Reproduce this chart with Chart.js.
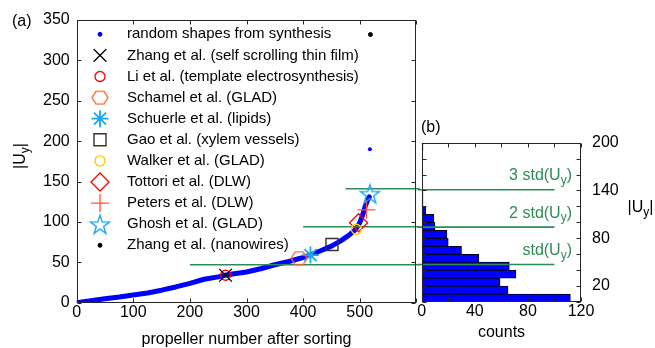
<!DOCTYPE html>
<html>
<head>
<meta charset="utf-8">
<script src="https://cdn.jsdelivr.net/npm/chart.js@4.4.0/dist/chart.umd.min.js"></script>
<style>
  html, body { margin: 0; padding: 0; background: #fff; }
  #wrap { position: relative; width: 655px; height: 348px; }
  canvas { position: absolute; left: 0; top: 0; }
</style>
</head>
<body>
<div id="wrap">
  <canvas id="panelA" width="655" height="348"></canvas>
  <canvas id="panelB" width="655" height="348"></canvas>
</div>
<script>
// Panel (a): sorted |Uy| of the random shapes
var sortIndex = [0, 25, 50, 75, 100, 125, 150, 175, 200, 225, 250, 262, 275, 300, 325, 350, 375, 395, 412, 430, 450, 465, 480, 490, 495, 500, 505, 510, 514, 517];
var sortUy    = [0, 2.5, 5, 7, 9.5, 12, 15.5, 19.5, 24, 29, 32, 34, 35.5, 38, 42, 47, 51, 55, 59, 64, 70, 76, 83, 89, 93, 99, 108, 120, 127, 131];
var outlierIndex = [518];
var outlierUy = [190];

// literature propellers
var markerNames = ['Zhang et al. (self scrolling thin film)', 'Li et al. (template electrosynthesis)',
  'Schamel et al. (GLAD)', 'Schuerle et al. (lipids)', 'Gao et al. (xylem vessels)', 'Walker et al. (GLAD)',
  'Tottori et al. (DLW)', 'Peters et al. (DLW)', 'Ghosh et al. (GLAD)', 'Zhang et al. (nanowires)'];
var markerX  = [263, 263, 393, 413, 451, 494, 498, 512, 518, 519];
var markerUy = [34, 34, 55, 59, 72, 91, 99, 115, 135, 332];
var randomName = 'random shapes from synthesis';

// Panel (b): histogram of |Uy|, bins of 10
var binCenters = [5, 15, 25, 35, 45, 55, 65, 75, 85, 95, 105, 115, 125, 135, 145, 155, 165, 175, 185, 195];
var binCounts  = [112, 65, 59, 71, 66, 43, 30, 20, 19, 10, 9, 3, 1, 1, 0, 0, 0, 0, 0, 1];

// std levels
var stdLevels = [47, 94, 141];
var stdNames  = ['std(', '2 std(', '3 std('];
var stdStartX = [200, 400, 475];

var FONT = "'Liberation Sans', Arial, sans-serif";
var GREEN = '#2e8b57';
var BLUE = '#0000ff';
var AXIS = '#262626';
Chart.defaults.font.family = FONT;
Chart.defaults.font.size = 16;
Chart.defaults.color = '#000';

function hexagon(r, color, lw) {
  var c = document.createElement('canvas');
  c.width = c.height = Math.ceil(2 * r + 4);
  var g = c.getContext('2d'), m = c.width / 2;
  g.strokeStyle = color; g.lineWidth = lw;
  g.beginPath();
  for (var k = 0; k < 6; k++) {
    var a = k * Math.PI / 3;
    g.lineTo(m + r * Math.cos(a), m + r * 0.92 * Math.sin(a));
  }
  g.closePath(); g.stroke();
  return c;
}

function pentagram(r, color, lw) {
  var c = document.createElement('canvas');
  c.width = c.height = Math.ceil(2 * r + 4);
  var g = c.getContext('2d'), m = c.width / 2;
  g.strokeStyle = color; g.lineWidth = lw;
  g.beginPath();
  for (var k = 0; k < 10; k++) {
    var rr = k % 2 ? r * 0.382 : r;
    var a = -Math.PI / 2 + k * Math.PI / 5;
    g.lineTo(m + rr * Math.cos(a), m + 1 + rr * Math.sin(a));
  }
  g.closePath(); g.stroke();
  return c;
}

// marker looks, same order as markerNames
var markerLook = [
  { style: 'crossRot', radius: 9,   color: '#000',    fill: 'transparent', lw: 1.3 },
  { style: 'circle',   radius: 5,   color: '#ff0000', fill: 'transparent', lw: 1.3 },
  { style: hexagon(8, '#ff6633', 1.4), radius: 8, color: '#ff6633', fill: 'transparent', lw: 1.4 },
  { style: 'star',     radius: 8.5, color: '#1aa7ee', fill: 'transparent', lw: 1.8 },
  { style: 'rect',     radius: 8.5, color: '#333',    fill: 'transparent', lw: 1.4 },
  { style: 'circle',   radius: 5,   color: '#ffcc00', fill: 'transparent', lw: 1.4 },
  { style: 'rectRot',  radius: 9,   color: '#ff0000', fill: 'transparent', lw: 1.3 },
  { style: 'cross',    radius: 9,   color: '#ff5533', fill: 'transparent', lw: 1.3 },
  { style: pentagram(10, '#1aa7ee', 1.4), radius: 10, color: '#1aa7ee', fill: 'transparent', lw: 1.4 },
  { style: 'circle',   radius: 2,   color: '#000',    fill: '#000', lw: 1 }
];

function subText(ctx, x, y, main, sub, tail, align, color) {
  ctx.font = '16px ' + FONT; var w1 = ctx.measureText(main).width;
  ctx.font = '12px ' + FONT; var w2 = ctx.measureText(sub).width;
  ctx.font = '16px ' + FONT; var w3 = ctx.measureText(tail).width;
  var total = w1 + w2 + w3;
  var x0 = align === 'right' ? x - total : (align === 'center' ? x - total / 2 : x);
  ctx.textAlign = 'left'; ctx.textBaseline = 'middle'; ctx.fillStyle = color;
  ctx.fillText(main, x0, y);
  ctx.font = '12px ' + FONT; ctx.fillText(sub, x0 + w1, y + 5);
  ctx.font = '16px ' + FONT; ctx.fillText(tail, x0 + w1 + w2, y);
}

// box round the plot area with inward ticks on all four sides
var boxPlugin = {
  id: 'box',
  afterDatasetsDraw: function(chart) {
    var a = chart.chartArea, ctx = chart.ctx, sx = chart.scales.x, sy = chart.scales.y;
    ctx.save();
    ctx.strokeStyle = AXIS; ctx.lineWidth = 1;
    var L = Math.round(a.left) + 0.5, R = Math.round(a.right) - 0.5, T = Math.round(a.top) + 0.5, B = Math.round(a.bottom) - 0.5;
    ctx.strokeRect(L, T, R - L, B - T);
    ctx.beginPath();
    sx.ticks.forEach(function(t) {
      var p = Math.round(sx.getPixelForValue(t.value)) + 0.5;
      ctx.moveTo(p, B); ctx.lineTo(p, B - 4);
      ctx.moveTo(p, T); ctx.lineTo(p, T + 4);
    });
    sy.ticks.forEach(function(t) {
      var p = Math.round(sy.getPixelForValue(t.value)) + 0.5;
      ctx.moveTo(L, p); ctx.lineTo(L + 4, p);
      ctx.moveTo(R, p); ctx.lineTo(R - 4, p);
    });
    ctx.stroke();
    ctx.restore();
  }
};

var textA = {
  id: 'textA',
  afterDraw: function(chart) {
    var ctx = chart.ctx;
    ctx.save();
    ctx.fillStyle = '#000'; ctx.font = '16px ' + FONT;
    ctx.textAlign = 'left'; ctx.textBaseline = 'middle';
    ctx.fillText('(a)', 12, 22);
    ctx.textAlign = 'center';
    ctx.fillText('propeller number after sorting', 246.5, 340);
    ctx.save();
    ctx.translate(21, 156); ctx.rotate(-Math.PI / 2);
    subText(ctx, 0, 0, '|U', 'y', '|', 'center', '#000');
    ctx.restore();

    // legend
    var rows = [{ style: 'circle', radius: 2, color: BLUE, fill: BLUE, lw: 1 }].concat(markerLook);
    var names = [randomName].concat(markerNames);
    rows.forEach(function(m, i) {
      var y = 34.3 + i * 21.1;
      ctx.strokeStyle = m.color; ctx.fillStyle = m.fill; ctx.lineWidth = m.lw;
      Chart.helpers.drawPoint(ctx, { pointStyle: m.style, radius: m.radius, rotation: 0, borderWidth: m.lw }, 100, y);
      ctx.fillStyle = '#000'; ctx.font = '15px ' + FONT;
      ctx.textAlign = 'left'; ctx.textBaseline = 'middle';
      ctx.fillText(names[i], 127, y);
    });
    ctx.restore();
  }
};

var textB = {
  id: 'textB',
  afterDraw: function(chart) {
    var ctx = chart.ctx, sy = chart.scales.y;
    ctx.save();
    ctx.fillStyle = '#000'; ctx.font = '16px ' + FONT;
    ctx.textAlign = 'left'; ctx.textBaseline = 'middle';
    ctx.fillText('(b)', 421, 128);
    ctx.textAlign = 'center';
    ctx.fillText('counts', 501.5, 333);
    subText(ctx, 640.5, 208, '|U', 'y', '|', 'center', '#000');
    stdLevels.forEach(function(v, i) {
      subText(ctx, 572, sy.getPixelForValue(v) - 14, stdNames[i] + 'U', 'y', ')', 'right', GREEN);
    });
    ctx.restore();
  }
};

// ---------- panel (a)
var dsA = [];
markerNames.forEach(function(name, i) {
  var m = markerLook[i];
  dsA.push({
    label: name, data: [{ x: markerX[i], y: markerUy[i] }],
    pointStyle: m.style, pointRadius: m.radius, borderColor: m.color,
    backgroundColor: m.fill, borderWidth: m.lw, order: 0
  });
});
stdLevels.forEach(function(v, i) {
  dsA.push({
    label: stdNames[i], data: [{ x: stdStartX[i], y: v }, { x: 606, y: v }],
    showLine: true, pointRadius: 0, borderColor: GREEN, borderWidth: 1.6, clip: false, order: 2
  });
});
dsA.push({
  label: randomName + ' (max)', data: outlierIndex.map(function(x, i) { return { x: x, y: outlierUy[i] }; }),
  pointRadius: 2, backgroundColor: BLUE, borderColor: BLUE, borderWidth: 0, order: 3
});
dsA.push({
  label: randomName, data: sortIndex.map(function(x, i) { return { x: x, y: sortUy[i] }; }),
  showLine: true, pointRadius: 0, borderColor: BLUE, borderWidth: 5,
  borderCapStyle: 'round', borderJoinStyle: 'round', order: 4
});

new Chart(document.getElementById('panelA').getContext('2d'), {
  type: 'scatter',
  data: { datasets: dsA },
  options: {
    responsive: false, animation: false, devicePixelRatio: 1, events: [],
    layout: { padding: { left: 0, top: 20, right: 655 - 416.3, bottom: 0 } },
    plugins: { legend: { display: false }, tooltip: { enabled: false } },
    scales: {
      x: {
        type: 'linear', min: 0, max: 600,
        grid: { display: false, drawTicks: false }, border: { display: false },
        ticks: { stepSize: 100, padding: 0, color: '#000', maxRotation: 0, autoSkip: false,
                 callback: function(v) { return v === 600 ? '' : v; } },
        afterFit: function(s) { s.height = 348 - 302.7; }
      },
      y: {
        type: 'linear', min: 0, max: 350,
        grid: { display: false, drawTicks: false }, border: { display: false },
        ticks: { stepSize: 50, padding: 7, color: '#000', autoSkip: false },
        afterFit: function(s) { s.width = 76.7; }
      }
    }
  },
  plugins: [boxPlugin, textA]
});

// ---------- panel (b)
var dsB = [];
stdLevels.forEach(function(v, i) {
  dsB.push({
    type: 'line', indexAxis: 'x', label: stdNames[i],
    data: [{ x: -3, y: v }, { x: 100, y: v }],
    pointRadius: 0, borderColor: GREEN, borderWidth: 1.6, clip: false, order: 0
  });
});
dsB.push({
  type: 'bar', label: 'counts',
  data: binCenters.map(function(c, i) { return { x: binCounts[i], y: c }; }).filter(function(p) { return p.x > 0; }),
  backgroundColor: BLUE, borderColor: '#000022', borderWidth: 1,
  barPercentage: 1, categoryPercentage: 1, order: 1
});

new Chart(document.getElementById('panelB').getContext('2d'), {
  type: 'bar',
  data: { datasets: dsB },
  options: {
    indexAxis: 'y',
    responsive: false, animation: false, devicePixelRatio: 1, events: [],
    layout: { padding: { left: 421.7, top: 142.7, right: 0, bottom: 0 } },
    plugins: { legend: { display: false }, tooltip: { enabled: false } },
    scales: {
      x: {
        type: 'linear', position: 'bottom', min: 0, max: 120, offset: false,
        grid: { display: false, drawTicks: false, offset: false }, border: { display: false },
        ticks: { stepSize: 20, padding: 0, color: '#000', maxRotation: 0, minRotation: 0, autoSkip: false,
                 callback: function(v) { return v % 40 === 0 ? v : ''; } },
        afterFit: function(s) { s.height = 348 - 302; }
      },
      y: {
        type: 'linear', position: 'right', min: 0, max: 200, offset: false,
        grid: { display: false, drawTicks: false, offset: false }, border: { display: false },
        ticks: { stepSize: 20, padding: 11, color: '#000', autoSkip: false,
                 callback: function(v) { return (v - 20) % 60 === 0 ? v : ''; } },
        afterFit: function(s) { s.width = 655 - 581; }
      }
    }
  },
  plugins: [boxPlugin, textB]
});
</script>
</body>
</html>
